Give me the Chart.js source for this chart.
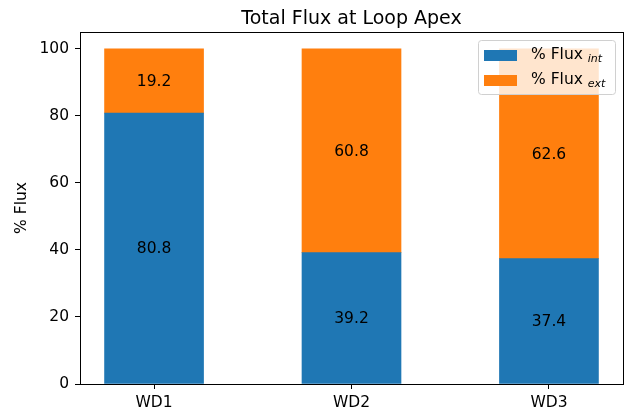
<!DOCTYPE html>
<html>
<head>
<meta charset="utf-8">
<script src="https://cdn.jsdelivr.net/npm/chart.js@4/dist/chart.umd.min.js"></script>
<style>
  body { margin: 0; background: #fff; }
  #wrap { width: 637px; height: 414px; }
</style>
</head>
<body>
<div id="wrap"><canvas id="chart" width="637" height="414"></canvas></div>
<script>
const categories = ['WD1', 'WD2', 'WD3'];
const fluxInt = [80.8, 39.2, 37.4];
const fluxExt = [19.2, 60.8, 62.6];
const yTicks = [0, 20, 40, 60, 80, 100];

const FONT = "'DejaVu Sans', sans-serif";
const FS = 15.5;

// text labels in the middle of each bar segment
const barLabels = {
    id: 'barLabels',
    afterDatasetsDraw(chart) {
        const ctx = chart.ctx;
        ctx.save();
        ctx.font = FS + 'px ' + FONT;
        ctx.fillStyle = '#000';
        ctx.textAlign = 'center';
        ctx.textBaseline = 'middle';
        chart.data.datasets.forEach((ds, i) => {
            chart.getDatasetMeta(i).data.forEach((bar, j) => {
                const p = bar.getProps(['x', 'y', 'base'], true);
                ctx.fillText(ds.data[j].y.toFixed(1), p.x, (p.y + p.base) / 2 + 1);
            });
        });
        ctx.restore();
    }
};

// frame, title and legend drawn like matplotlib
const decor = {
    id: 'decor',
    afterDraw(chart) {
        const ctx = chart.ctx;
        const a = chart.chartArea;
        ctx.save();
        ctx.strokeStyle = '#000';
        ctx.lineWidth = 1;
        ctx.strokeRect(Math.round(a.left) + 0.5, Math.round(a.top) + 0.5, Math.round(a.right - a.left), Math.round(a.bottom - a.top));

        ctx.fillStyle = '#000';
        ctx.font = '19px ' + FONT;
        ctx.textAlign = 'center';
        ctx.textBaseline = 'alphabetic';
        ctx.fillText('Total Flux at Loop Apex', (a.left + a.right) / 2, 24);

        // legend
        const lx = 478, ly = 40, lw = 137, lh = 54;
        ctx.beginPath();
        ctx.roundRect(lx + 0.5, ly + 0.5, lw, lh, 3);
        ctx.fillStyle = 'rgba(255,255,255,0.8)';
        ctx.fill();
        ctx.strokeStyle = '#d0d0d0';
        ctx.stroke();
        const rows = [['int', '#1f77b4', 55], ['ext', '#ff7f0e', 80]];
        rows.forEach(([sub, col, cy]) => {
            ctx.fillStyle = col;
            ctx.fillRect(484, cy - 5, 33, 11);
            ctx.fillStyle = '#000';
            ctx.textAlign = 'left';
            ctx.textBaseline = 'middle';
            ctx.font = FS + 'px ' + FONT;
            ctx.fillText('% Flux', 531, cy);
            const w = ctx.measureText('% Flux ').width;
            ctx.font = 'italic 11px ' + FONT;
            ctx.fillText(sub, 531 + w, cy + 4);
        });
        ctx.restore();
    }
};

new Chart(document.getElementById('chart'), {
    type: 'bar',
    data: {
        datasets: [
            {
                label: '% Flux int',
                data: fluxInt.map((v, i) => ({ x: i, y: v })),
                backgroundColor: '#1f77b4'
            },
            {
                label: '% Flux ext',
                data: fluxExt.map((v, i) => ({ x: i, y: v })),
                backgroundColor: '#ff7f0e'
            }
        ]
    },
    options: {
        responsive: false,
        animation: false,
        barThickness: 99,
        layout: { padding: { top: 32, right: 14, left: 0, bottom: 0 } },
        plugins: { legend: { display: false }, tooltip: { enabled: false } },
        scales: {
            x: {
                type: 'linear',
                stacked: true,
                offset: false,
                min: -0.375,
                max: 2.375,
                afterBuildTicks: s => { s.ticks = categories.map((c, i) => ({ value: i })); },
                afterFit: s => { s.height = 30; },
                ticks: {
                    callback: v => categories[v],
                    color: '#000',
                    font: { size: FS, family: FONT },
                    padding: 5,
                    autoSkip: false,
                    maxRotation: 0
                },
                grid: { display: true, drawOnChartArea: false, drawTicks: true, tickLength: 5, color: '#000', offset: false },
                border: { display: true, color: '#000' }
            },
            y: {
                stacked: true,
                min: 0,
                max: 105,
                afterBuildTicks: s => { s.ticks = yTicks.map(v => ({ value: v })); },
                afterFit: s => { s.width = 80; },
                ticks: {
                    color: '#000',
                    font: { size: FS, family: FONT },
                    padding: 6
                },
                title: {
                    display: true,
                    text: '% Flux',
                    color: '#000',
                    font: { size: FS, family: FONT },
                    padding: { top: 13, bottom: 0 }
                },
                grid: { display: true, drawOnChartArea: false, drawTicks: true, tickLength: 5, color: '#000' },
                border: { display: true, color: '#000' }
            }
        }
    },
    plugins: [barLabels, decor]
});
</script>
</body>
</html>
